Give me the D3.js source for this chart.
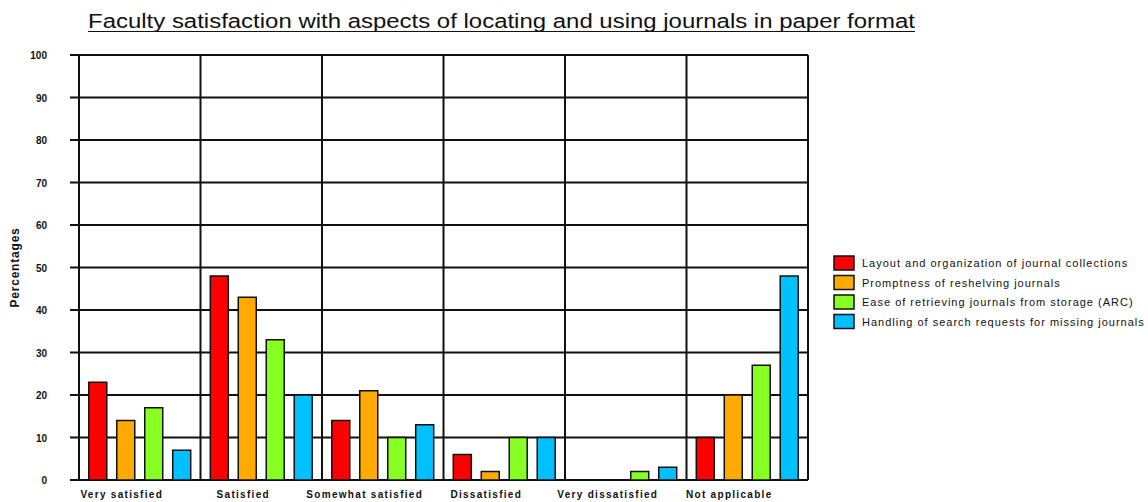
<!DOCTYPE html>
<html>
<head>
<meta charset="utf-8">
<script src="https://cdn.jsdelivr.net/npm/d3@7"></script>
<style>
  html, body { margin: 0; padding: 0; background: #fff; }
  svg { display: block; }
</style>
</head>
<body>
<svg id="chart" width="1148" height="502"></svg>
<script>
const title = "Faculty satisfaction with aspects of locating and using journals in paper format";
const categories = ["Very satisfied", "Satisfied", "Somewhat satisfied", "Dissatisfied", "Very dissatisfied", "Not applicable"];
const seriesNames = [
  "Layout and organization of journal collections",
  "Promptness of reshelving journals",
  "Ease of retrieving journals from storage (ARC)",
  "Handling of search requests for missing journals"
];
const layoutValues    = [23, 48, 14, 6, 0, 10];
const promptValues    = [14, 43, 21, 2, 0, 20];
const easeValues      = [17, 33, 10, 10, 2, 27];
const handlingValues  = [7, 20, 13, 10, 3, 48];
const yTicks = [0, 10, 20, 30, 40, 50, 60, 70, 80, 90, 100];
const colors = ["#ff0000", "#ffaa00", "#88ff22", "#00c0ff"];

const seriesValues = [layoutValues, promptValues, easeValues, handlingValues];

const svg = d3.select("#chart");
const plotLeft = 79, plotRight = 808, plotTop = 55, plotBottom = 480;

const x = d3.scaleBand().domain(categories).range([plotLeft, plotRight]).padding(0);
const xs = d3.scaleBand().domain(seriesNames).range([0, x.bandwidth()]).paddingInner(0.357).paddingOuter(0.35);
const y = d3.scaleLinear().domain([0, 100]).range([plotBottom, plotTop]);

// Title
svg.append("text")
  .attr("x", 88).attr("y", 28)
  .attr("font-family", "'Liberation Sans Narrow', 'Arial Narrow', 'Liberation Sans', Arial, sans-serif")
  .attr("font-size", 20)
  .attr("textLength", 827).attr("lengthAdjust", "spacingAndGlyphs")
  .attr("fill", "#111")
  .text(title);
svg.append("line").attr("x1", 88).attr("x2", 915).attr("y1", 31.5).attr("y2", 31.5)
  .attr("stroke", "#111").attr("stroke-width", 1);

// Horizontal gridlines
svg.append("g").selectAll("line").data(yTicks).join("line")
  .attr("x1", plotLeft - 9).attr("x2", plotRight)
  .attr("y1", d => y(d)).attr("y2", d => y(d))
  .attr("stroke", "#111").attr("stroke-width", 2);

// Vertical category separators
svg.append("g").selectAll("line").data(categories).join("line")
  .attr("x1", d => x(d) + x.bandwidth()).attr("x2", d => x(d) + x.bandwidth())
  .attr("y1", plotTop).attr("y2", plotBottom)
  .attr("stroke", "#111").attr("stroke-width", 2);

// Left axis line
svg.append("line").attr("x1", plotLeft).attr("x2", plotLeft).attr("y1", plotTop).attr("y2", plotBottom)
  .attr("stroke", "#111").attr("stroke-width", 2);

// Y tick labels
svg.append("g").selectAll("text").data(yTicks).join("text")
  .attr("x", 47).attr("y", d => y(d) + 4)
  .attr("text-anchor", "end")
  .attr("font-family", "'Liberation Sans', Arial, sans-serif")
  .attr("font-size", 10).attr("font-weight", "bold")
  .attr("fill", "#111")
  .text(d => d);

// Y axis title
svg.append("text")
  .attr("transform", `translate(19, ${(plotTop + plotBottom) / 2}) rotate(-90)`)
  .attr("text-anchor", "middle")
  .attr("font-family", "'Liberation Sans', Arial, sans-serif")
  .attr("font-size", 12).attr("font-weight", "bold")
  .attr("letter-spacing", 0.8)
  .attr("fill", "#111")
  .text("Percentages");

// Bars
const groups = svg.append("g").selectAll("g").data(categories).join("g")
  .attr("transform", d => `translate(${x(d)},0)`);
groups.selectAll("rect")
  .data((c, ci) => seriesNames.map((s, si) => ({ s, si, v: seriesValues[si][ci] })).filter(d => d.v > 0))
  .join("rect")
  .attr("x", d => xs(d.s))
  .attr("width", xs.bandwidth())
  .attr("y", d => y(d.v))
  .attr("height", d => y(0) - y(d.v))
  .attr("fill", d => colors[d.si])
  .attr("stroke", "#111").attr("stroke-width", 1.5);

// X labels
svg.append("g").selectAll("text").data(categories).join("text")
  .attr("x", d => x(d) + x.bandwidth() / 2 - 18)
  .attr("y", 498)
  .attr("text-anchor", "middle")
  .attr("font-family", "'Liberation Sans', Arial, sans-serif")
  .attr("font-size", 10).attr("font-weight", "bold")
  .attr("letter-spacing", 1.3)
  .attr("fill", "#111")
  .text(d => d);

// Legend
const legend = svg.append("g").attr("transform", "translate(834,256)");
const li = legend.selectAll("g").data(seriesNames).join("g")
  .attr("transform", (d, i) => `translate(0, ${i * 19.5})`);
li.append("rect").attr("x", 0).attr("y", 0).attr("width", 20).attr("height", 14)
  .attr("fill", (d, i) => colors[i]).attr("stroke", "#111").attr("stroke-width", 1.5);
li.append("text").attr("x", 28).attr("y", 11)
  .attr("font-family", "'Liberation Sans', Arial, sans-serif")
  .attr("font-size", 11).attr("letter-spacing", 1)
  .attr("fill", "#111")
  .text(d => d);
</script>
</body>
</html>
